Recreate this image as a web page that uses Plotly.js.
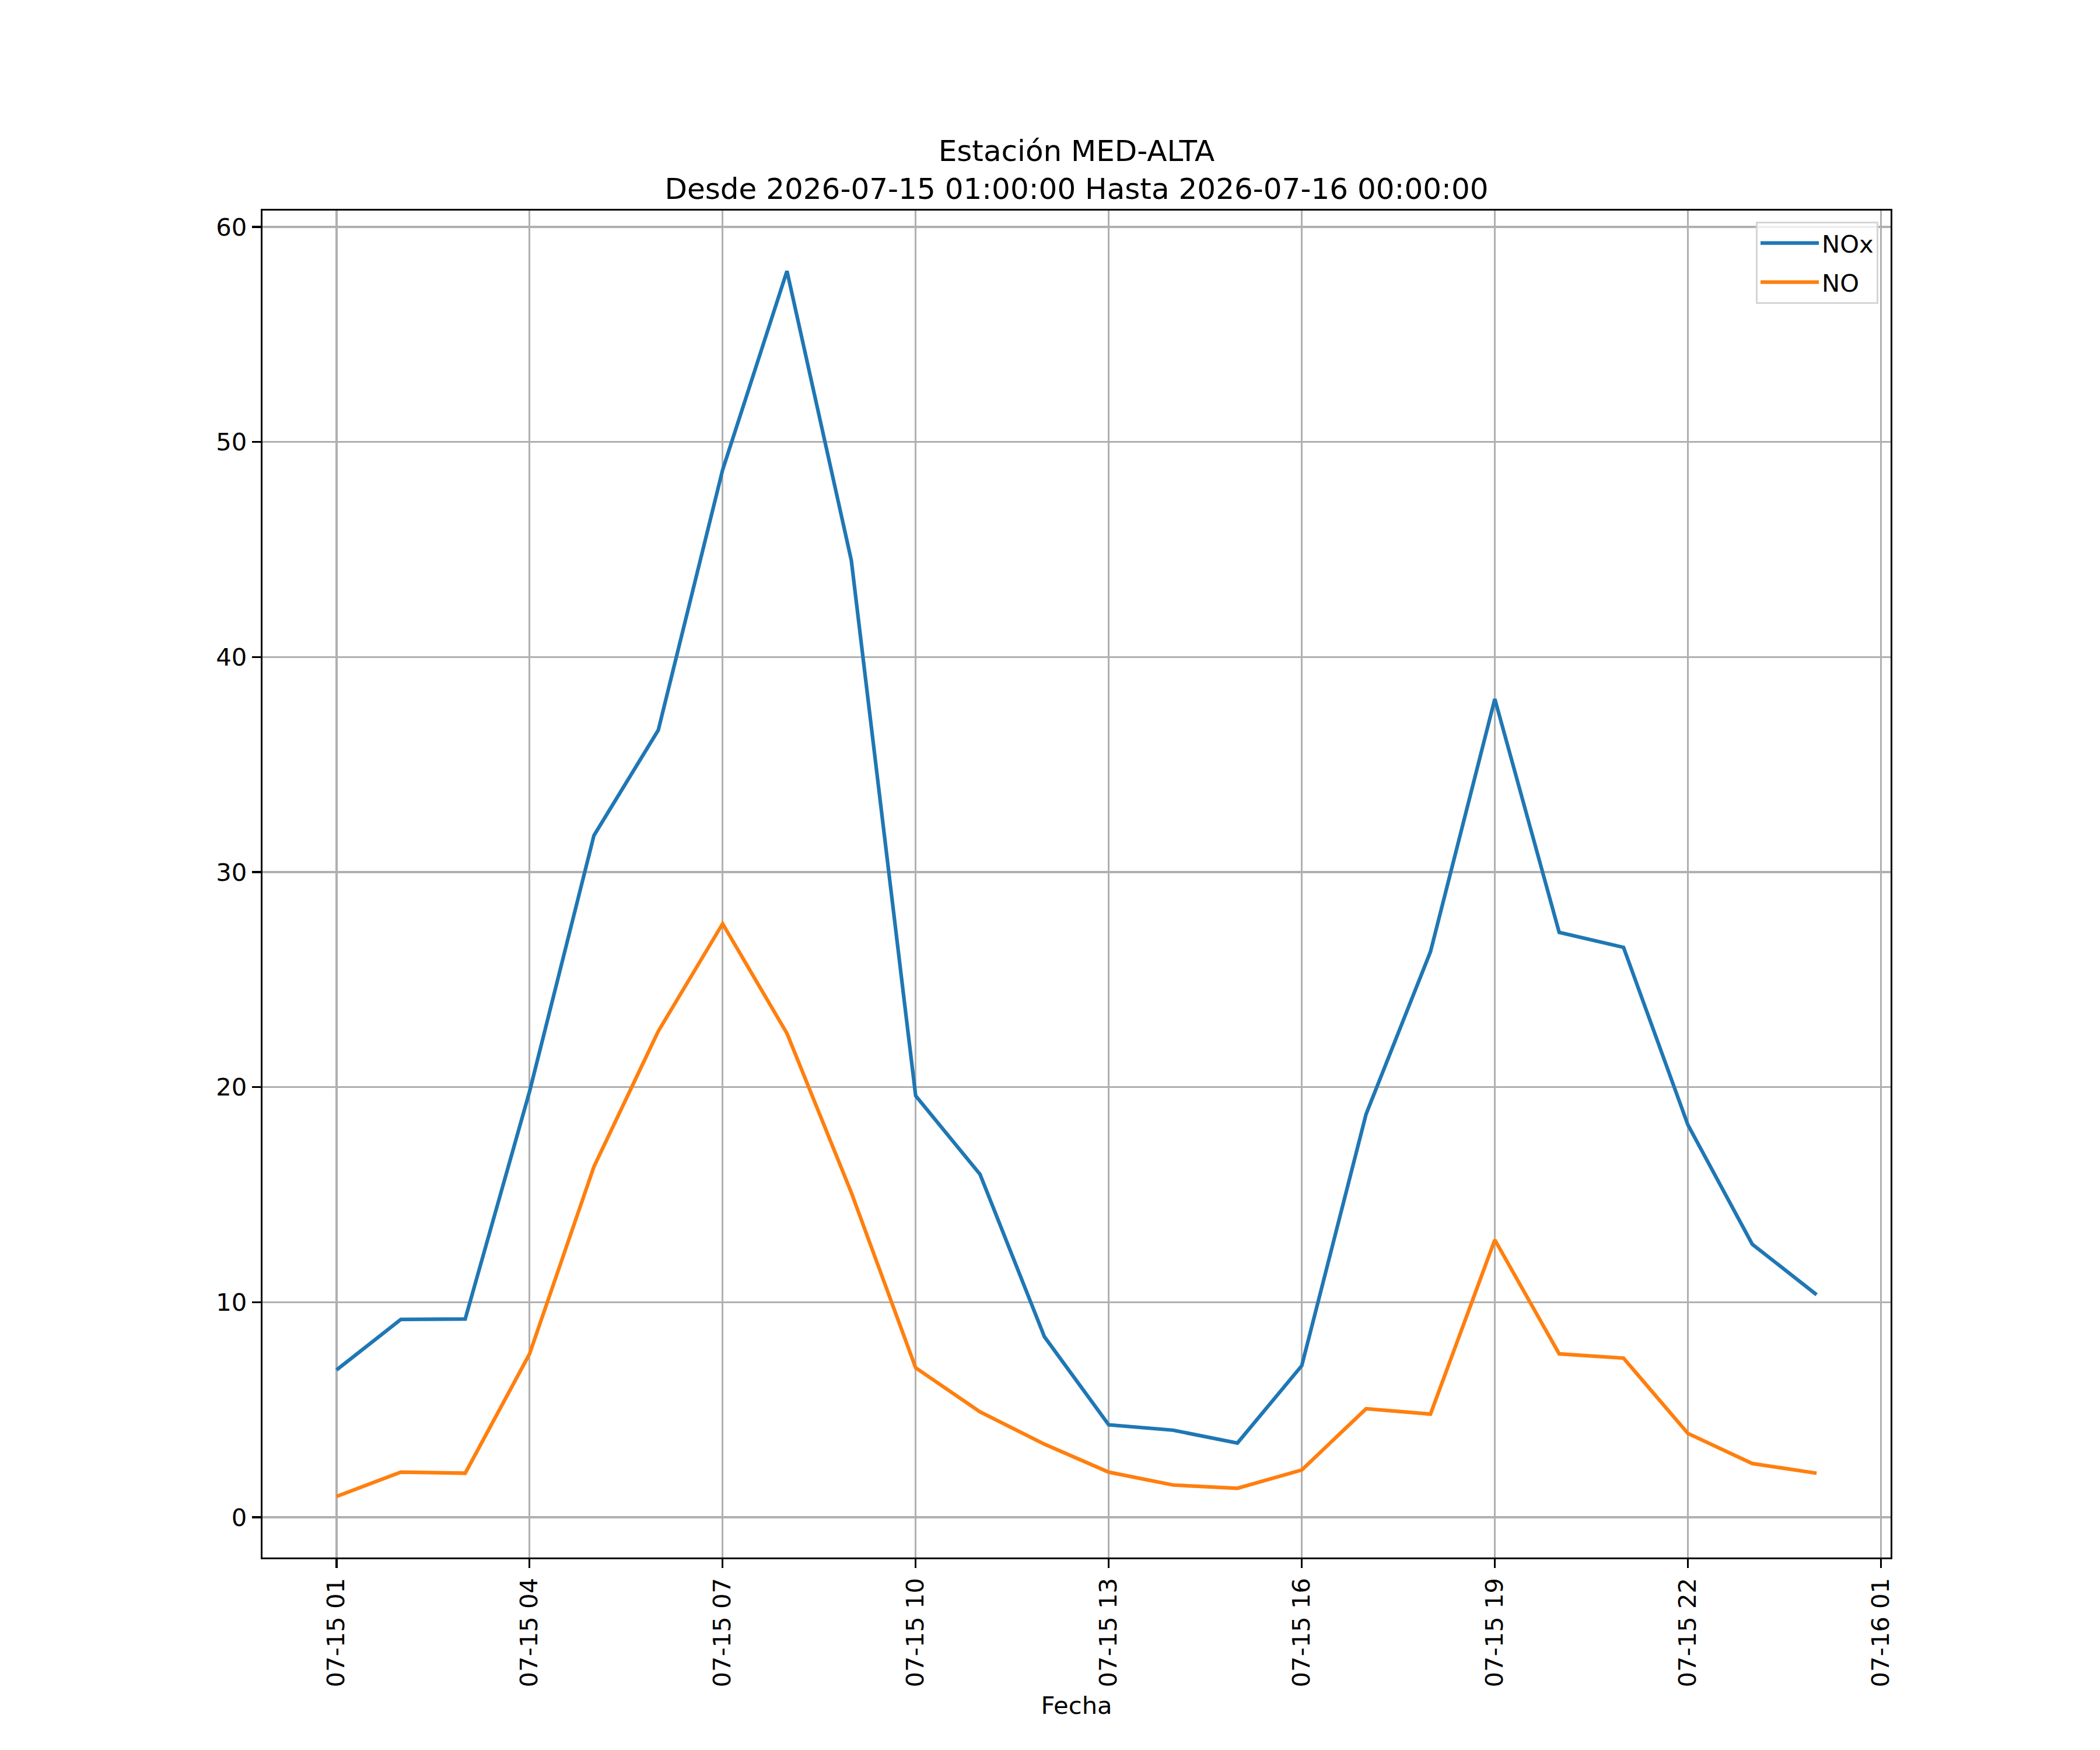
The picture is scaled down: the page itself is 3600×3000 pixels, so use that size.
<!DOCTYPE html>
<html>
<head>
<meta charset="utf-8">
<script src="https://cdn.plot.ly/plotly-3.0.1.min.js"></script>
<style>
  body { margin: 0; background: #fff; }
  #plot { width: 3600px; height: 3000px; }
</style>
</head>
<body>
<div id="plot"></div>
<script>
// hourly timestamps
var fechas = [
  "2026-07-15 01:00:00", "2026-07-15 02:00:00", "2026-07-15 03:00:00", "2026-07-15 04:00:00",
  "2026-07-15 05:00:00", "2026-07-15 06:00:00", "2026-07-15 07:00:00", "2026-07-15 08:00:00",
  "2026-07-15 09:00:00", "2026-07-15 10:00:00", "2026-07-15 11:00:00", "2026-07-15 12:00:00",
  "2026-07-15 13:00:00", "2026-07-15 14:00:00", "2026-07-15 15:00:00", "2026-07-15 16:00:00",
  "2026-07-15 17:00:00", "2026-07-15 18:00:00", "2026-07-15 19:00:00", "2026-07-15 20:00:00",
  "2026-07-15 21:00:00", "2026-07-15 22:00:00", "2026-07-15 23:00:00", "2026-07-16 00:00:00"
];

var nox = [6.85, 9.2, 9.22, 19.8, 31.7, 36.6, 48.7, 57.95, 44.5, 19.6, 15.95, 8.4,
           4.3, 4.05, 3.45, 7.05, 18.75, 26.3, 38.05, 27.2, 26.5, 18.25, 12.7, 10.35];

var no = [0.97, 2.1, 2.05, 7.6, 16.3, 22.6, 27.6, 22.5, 15.1, 6.95, 4.9, 3.4,
          2.1, 1.5, 1.35, 2.2, 5.05, 4.8, 12.9, 7.6, 7.4, 3.9, 2.5, 2.05];

var titulo = "Estación MED-ALTA<br>Desde 2026-07-15 01:00:00 Hasta 2026-07-16 00:00:00";

// NOx trace
var trace1 = {
  x: fechas,
  y: nox,
  name: "NOx",
  legendgroup: "a",
  type: "scatter",
  mode: "lines",
  line: { color: "#1f77b4", width: 6.25 }
};

// NO trace
var trace2 = {
  x: fechas,
  y: no,
  name: "NO",
  legendgroup: "b",
  type: "scatter",
  mode: "lines",
  line: { color: "#ff7f0e", width: 6.25 }
};

var data = [trace1, trace2];

var font = { family: "DejaVu Sans", size: 41.7, color: "#000" };

var layout = {
  width: 3600,
  height: 3000,
  paper_bgcolor: "#fff",
  plot_bgcolor: "#fff",
  font: font,
  margin: { l: 450, r: 359, t: 361, b: 330 },
  showlegend: true,
  title: {
    text: titulo,
    font: { family: "DejaVu Sans", size: 50, color: "#000" },
    x: 0.5, xref: "paper",
    y: 1, yref: "paper", yanchor: "bottom",
    pad: { b: 85 }
  },
  xaxis: {
    type: "date",
    range: ["2026-07-14 23:51:00", "2026-07-16 01:09:00"],
    tick0: "2026-07-15 01:00:00",
    dtick: 3 * 3600000,
    tickformat: "%m-%d %H",
    tickangle: -90,
    ticks: "outside",
    ticklen: 15,
    tickwidth: 3.3,
    tickcolor: "#000",
    showgrid: true,
    gridcolor: "#b0b0b0",
    gridwidth: 3.3,
    zeroline: false,
    showline: true,
    linecolor: "#000",
    linewidth: 3.3,
    mirror: true,
    tickfont: font,
    title: { text: "Fecha", font: font, standoff: 18 }
  },
  yaxis: {
    range: [-1.87, 60.76],
    tickvals: [0, 10, 20, 30, 40, 50, 60],
    ticks: "outside",
    ticklen: 15,
    tickwidth: 3.3,
    tickcolor: "#000",
    showgrid: true,
    gridcolor: "#b0b0b0",
    gridwidth: 3.3,
    zeroline: false,
    showline: true,
    linecolor: "#000",
    linewidth: 3.3,
    mirror: true,
    tickfont: font
  },
  legend: {
    x: 0.9925, xanchor: "right",
    y: 0.9918, yanchor: "top",
    bgcolor: "rgba(255,255,255,0.8)",
    bordercolor: "#d5d5d5",
    borderwidth: 3,
    itemwidth: 100,
    traceorder: "grouped",
    tracegroupgap: 10,
    font: font
  }
};

Plotly.newPlot("plot", data, layout, { staticPlot: true });
</script>
</body>
</html>
